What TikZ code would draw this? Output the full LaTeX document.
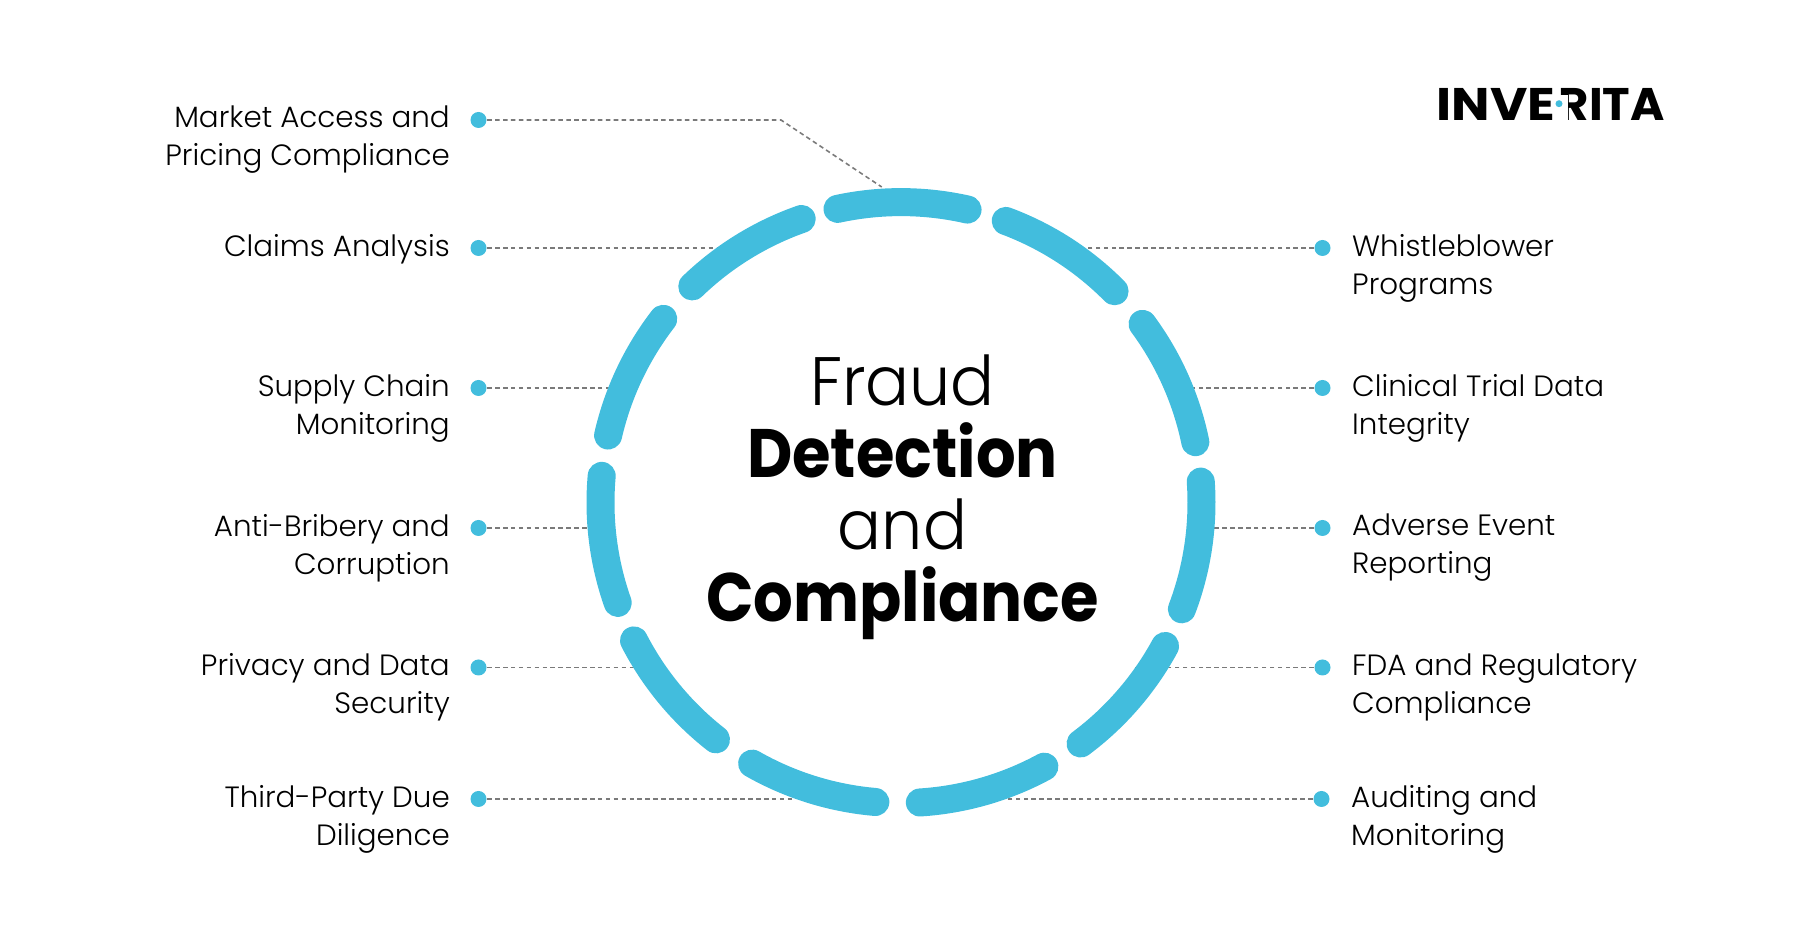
\documentclass[tikz,border=0pt]{standalone}
\usepackage{fontspec}
\setmainfont{Poppins}[UprightFont=* Light,BoldFont=* Bold]
\newfontfamily\titlefont{Poppins}[UprightFont=* Light,BoldFont=* Bold,UprightFeatures={FakeStretch=0.95},BoldFeatures={FakeStretch=0.91}]
\newfontfamily\logofont{Poppins Bold}[FakeStretch=1.12]
\newfontfamily\logofontb{Poppins Bold}[FakeStretch=1.02]
\usepackage{tikz}
\usetikzlibrary{positioning}
\definecolor{ringblue}{HTML}{42BDDD}
\definecolor{leadgrey}{HTML}{7A7A7A}
\tikzset{dotmark/.style={circle,fill=ringblue,inner sep=0pt,minimum size=0.16cm}}
\tikzset{lead/.style={draw=leadgrey,line width=0.45pt,dash pattern=on 1.3pt off 0.95pt}}
\tikzset{ringseg/.style={draw=ringblue,line width=0.28cm,line cap=round}}
\tikzset{lbl/.style={font=\fontsize{8.35}{10.8}\selectfont,inner sep=0pt,text=black}}
\tikzset{lblleft/.style={lbl,anchor=north east,align=right,xshift=-0.28cm,yshift=0.145cm}}
\tikzset{lblright/.style={lbl,anchor=north west,align=left,xshift=0.29cm,yshift=0.145cm}}
\tikzset{logotxt/.style={inner sep=0pt,anchor=base west}}
\newcommand{\ringarc}[2]{\draw[ringseg] ([shift={(#1:3.005)}]ctr) arc[start angle=#1,end angle=#2,radius=3.005];}

\begin{document}
\begin{tikzpicture}
\useasboundingbox (0,0) rectangle (18,9.44);
\coordinate (ctr) at (9.01,4.414);

% left dots and labels
\node[dotmark] (dl1) at (4.785,8.24) {};
\node[dotmark] (dl2) at (4.785,6.96) {};
\node[dotmark] (dl3) at (4.785,5.56) {};
\node[dotmark] (dl4) at (4.785,4.16) {};
\node[dotmark] (dl5) at (4.785,2.765) {};
\node[dotmark] (dl6) at (4.785,1.45) {};
\node[lblleft] (tl1) at (dl1) {Market Access and\\Pricing Compliance};
\node[lblleft] (tl2) at (dl2) {Claims Analysis};
\node[lblleft] (tl3) at (dl3) {Supply Chain\\Monitoring};
\node[lblleft] (tl4) at (dl4) {Anti-Bribery and\\Corruption};
\node[lblleft] (tl5) at (dl5) {Privacy and Data\\Security};
\node[lblleft] (tl6) at (dl6) {Third-Party Due\\Diligence};

% right dots and labels
\node[dotmark] (dr1) at (13.225,6.96) {};
\node[dotmark] (dr2) at (13.225,5.56) {};
\node[dotmark] (dr3) at (13.225,4.16) {};
\node[dotmark] (dr4) at (13.225,2.765) {};
\node[dotmark] (dr5) at (13.215,1.45) {};
\node[lblright] (tr1) at (dr1) {Whistleblower\\Programs};
\node[lblright] (tr2) at (dr2) {Clinical Trial Data\\Integrity};
\node[lblright] (tr3) at (dr3) {Adverse Event\\Reporting};
\node[lblright] (tr4) at (dr4) {FDA and Regulatory\\Compliance};
\node[lblright] (tr5) at (dr5) {Auditing and\\Monitoring};

% free ends of the leaders, under the ring
\coordinate (bend) at (7.81,8.24);
\coordinate (el1) at (8.817,7.57);
\coordinate (el2) at (7.42,6.96);
\coordinate (el3) at (6.15,5.56);
\coordinate (el4) at (6.0,4.16);
\coordinate (el5) at (6.4,2.765);
\coordinate (el6) at (7.95,1.45);
\coordinate (er1) at (10.6,6.96);
\coordinate (er2) at (11.9,5.56);
\coordinate (er3) at (12.0,4.16);
\coordinate (er4) at (11.346,2.765);
\coordinate (er5) at (10.0,1.45);

\draw[lead] (dl1) -- (bend) -- (el1);
\draw[lead] (dl2) -- (el2);
\draw[lead] (dl3) -- (el3);
\draw[lead] (dl4) -- (el4);
\draw[lead] (dl5) -- (el5);
\draw[lead] (dl6) -- (el6);
\draw[lead] (dr1) -- (er1);
\draw[lead] (dr2) -- (er2);
\draw[lead] (dr3) -- (er3);
\draw[lead] (dr4) -- (er4);
\draw[lead] (dr5) -- (er5);

% ring, clockwise from the top
\ringarc{102.2}{77.2}
\ringarc{69.6}{44.7}
\ringarc{36.5}{11.6}
\ringarc{4}{-20.8}
\ringarc{-28.5}{-53.3}
\ringarc{-61.5}{-86.4}
\ringarc{-94.9}{-119.7}
\ringarc{-128}{-152.7}
\ringarc{-160.5}{-185.1}
\ringarc{167.1}{142.3}
\ringarc{134}{109.3}

\node[inner sep=0pt,align=center,font=\fontsize{19.5}{20.5}\titlefont] (title) at (9.025,4.47)
  {Fraud\\\textbf{Detection}\\and\\\textbf{Compliance}};

% logo, the R loses its stem
\node[logotxt,font=\fontsize{13}{13}\logofont] (logoa) at (14.36,8.235) {INVE};
\node[logotxt,font=\fontsize{13}{13}\logofontb] (logob) at (15.58,8.235) {RITA};
\fill[white] (15.56,8.22) rectangle (15.68,8.49);
\node[circle,fill=ringblue,inner sep=0pt,minimum size=0.07cm] (logodot) at (15.59,8.403) {};
\end{tikzpicture}
\end{document}
